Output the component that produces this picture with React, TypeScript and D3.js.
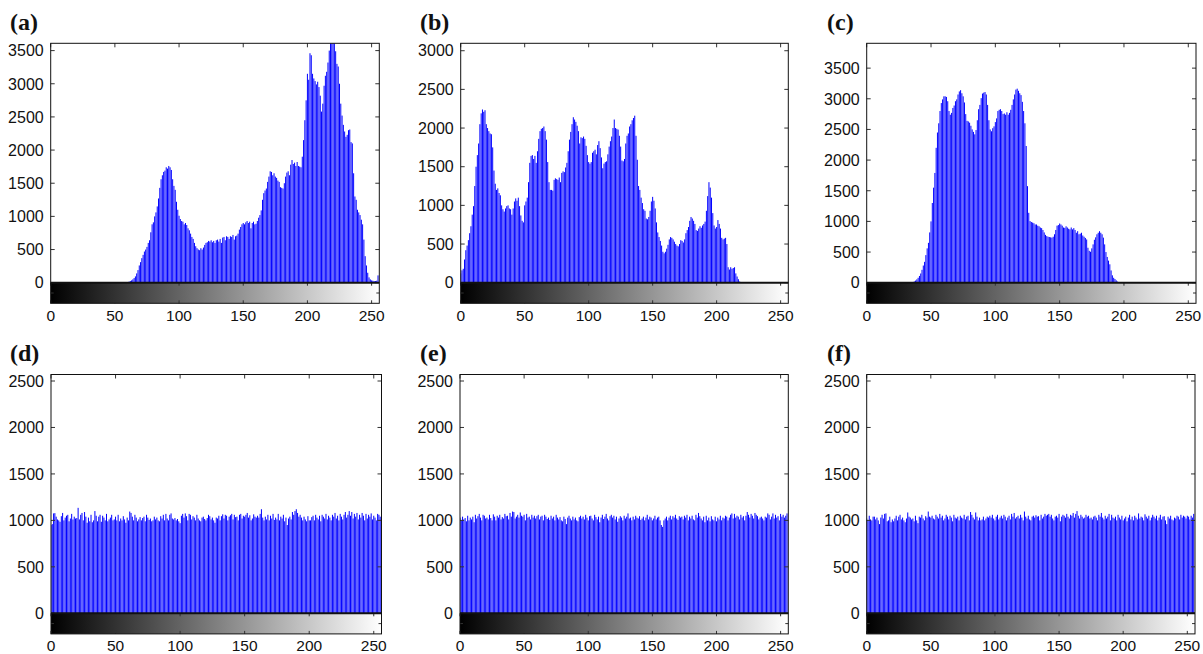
import React from 'react';
import * as d3 from 'd3';

// grey-level histograms, 256 bins each (counts)
const histA = [
  0, 0, 0, 0, 0, 0, 0, 0, 0, 0, 0, 0, 0, 0, 0, 0,
  0, 0, 0, 0, 0, 0, 0, 0, 0, 0, 0, 0, 0, 0, 0, 0,
  0, 0, 0, 0, 0, 0, 0, 0, 0, 0, 0, 0, 0, 0, 0, 0,
  0, 0, 0, 0, 0, 0, 0, 0, 0, 0, 0, 5, 10, 15, 25, 35,
  50, 70, 95, 140, 190, 260, 310, 370, 420, 470, 500, 540, 600, 640, 760, 880,
  910, 1000, 1060, 1150, 1270, 1430, 1560, 1620, 1670, 1690, 1740, 1720, 1760, 1740, 1700, 1560,
  1460, 1400, 1220, 1100, 1010, 960, 930, 920, 880, 900, 870, 820, 790, 740, 690, 660,
  600, 550, 520, 500, 490, 520, 500, 530, 570, 600, 610, 630, 620, 640, 610, 630,
  600, 640, 650, 620, 660, 600, 680, 690, 640, 700, 690, 660, 700, 690, 720, 650,
  700, 710, 740, 800, 840, 880, 900, 880, 910, 930, 900, 920, 820, 900, 920, 880,
  890, 930, 980, 1020, 1090, 1250, 1350, 1390, 1420, 1520, 1600, 1680, 1670, 1620, 1650, 1600,
  1580, 1540, 1520, 1440, 1430, 1420, 1500, 1600, 1660, 1680, 1620, 1780, 1850, 1790, 1810, 1760,
  1820, 1760, 1750, 1740, 1900, 2150, 2450, 2750, 3150, 3060, 3460, 3430, 3150, 3080, 3040, 2990,
  3030, 2950, 2820, 2580, 2700, 2970, 3120, 3180, 3320, 3500, 3610, 3610, 3610, 3610, 3490, 3300,
  3260, 3000, 2700, 2520, 2380, 2280, 2200, 2230, 2300, 2310, 2120, 2100, 1650, 1300, 1250, 1100,
  1060, 1020, 950, 880, 650, 400, 260, 150, 80, 50, 35, 30, 25, 25, 30, 110,
];

const histB = [
  120, 160, 180, 300, 420, 480, 550, 640, 730, 880, 990, 1250, 1500, 1650, 1800, 2050,
  2190, 2240, 2210, 2230, 2050, 2000, 1960, 1930, 1920, 1750, 1450, 1280, 1200, 1220, 1160, 1130,
  1000, 950, 920, 960, 990, 1000, 960, 950, 880, 960, 1050, 1090, 1060, 1100, 990, 870,
  800, 780, 1000, 1050, 1100, 1300, 1550, 1640, 1650, 1600, 1640, 1550, 1700, 1860, 1960, 1990,
  2000, 2020, 1960, 1850, 1560, 1300, 1200, 1200, 1190, 1330, 1350, 1340, 1330, 1360, 1300, 1420,
  1440, 1430, 1490, 1550, 1700, 1850, 1950, 2050, 2140, 2110, 2080, 2030, 1960, 1800, 1880, 1870,
  1890, 1860, 1770, 1650, 1560, 1540, 1560, 1680, 1700, 1720, 1660, 1780, 1830, 1740, 1620, 1480,
  1540, 1560, 1570, 1660, 1760, 1830, 1890, 2000, 2110, 2000, 1990, 1980, 1900, 1760, 1580, 1570,
  1600, 1800, 1900, 1930, 2020, 2050, 2100, 2130, 2160, 1900, 1590, 1250, 1200, 1100, 1030, 950,
  930, 830, 820, 850, 930, 1050, 1110, 1060, 960, 780, 650, 590, 540, 480, 400, 380,
  400, 440, 490, 560, 590, 580, 560, 530, 500, 480, 470, 500, 550, 540, 520, 560,
  640, 680, 720, 800, 850, 830, 800, 760, 680, 670, 700, 730, 710, 740, 760, 790,
  930, 1120, 1300, 1230, 1100, 900, 740, 700, 720, 810, 760, 700, 580, 560, 570, 580,
  500, 200, 170, 200, 180, 190, 200, 120, 80, 45, 15, 5, 0, 0, 0, 0,
  0, 0, 0, 0, 0, 0, 0, 0, 0, 0, 0, 0, 0, 0, 0, 0,
  0, 0, 0, 0, 0, 0, 0, 0, 0, 0, 0, 0, 0, 0, 0, 0,
];

const histC = [
  0, 0, 0, 0, 0, 0, 0, 0, 0, 0, 0, 0, 0, 0, 0, 0,
  0, 0, 0, 0, 0, 0, 0, 0, 0, 0, 0, 0, 0, 0, 0, 0,
  0, 0, 0, 0, 5, 20, 35, 55, 80, 110, 150, 210, 280, 340, 450, 560,
  650, 820, 1000, 1300, 1550, 1790, 2200, 2450, 2600, 2800, 2930, 2990, 3040, 3040, 3030, 2960,
  2800, 2740, 2770, 2850, 2890, 2960, 2990, 3070, 3120, 3140, 3090, 3040, 2940, 2750, 2640, 2630,
  2610, 2560, 2500, 2460, 2420, 2490, 2650, 2830, 2900, 3010, 3085, 3100, 3110, 3070, 2900, 2650,
  2500, 2470, 2520, 2550, 2620, 2680, 2800, 2820, 2830, 2800, 2750, 2760, 2740, 2780, 2740, 2770,
  2820, 2900, 2990, 3070, 3150, 3165, 3130, 3090, 3060, 2950, 2800, 2600, 2230, 1575, 1140, 1005,
  990, 980, 970, 950, 950, 930, 920, 900, 890, 860, 820, 780, 760, 750, 745, 740,
  735, 750, 790, 860, 930, 940, 965, 950, 930, 900, 895, 920, 900, 880, 870, 900,
  870, 890, 860, 815, 840, 790, 800, 815, 770, 750, 730, 705, 570, 520, 505, 560,
  625, 700, 740, 790, 815, 840, 815, 790, 735, 625, 500, 420, 360, 300, 200, 120,
  80, 60, 38, 18, 8, 3, 0, 0, 0, 0, 0, 0, 0, 0, 0, 0,
  0, 0, 0, 0, 0, 0, 0, 0, 0, 0, 0, 0, 0, 0, 0, 0,
  0, 0, 0, 0, 0, 0, 0, 0, 0, 0, 0, 0, 0, 0, 0, 0,
  0, 0, 0, 0, 0, 0, 0, 0, 0, 0, 0, 0, 0, 0, 0, 0,
];

const histD = [
  950, 960, 1075, 1078, 1040, 1010, 1000, 985, 1045, 1080, 1000, 1030, 1050, 1060, 990, 1020,
  1070, 1010, 1040, 1020, 1025, 1135, 1010, 1060, 1080, 1000, 1090, 1040, 975, 1030, 990, 1060,
  980, 1000, 1100, 1050, 990, 1040, 1060, 985, 1050, 1030, 1000, 1070, 990, 1010, 1030, 1060,
  1000, 1010, 1040, 1000, 1060, 990, 1020, 1000, 1045, 1010, 975, 1030, 1000, 1095, 1080, 1040,
  1000, 1060, 1030, 990, 1010, 1035, 1000, 1025, 1040, 990, 1060, 1030, 1005, 1020, 990, 1000,
  1040, 1010, 1030, 1000, 990, 1045, 1020, 1060, 1000, 1070, 1020, 1000, 1060, 1075, 1020, 1010,
  1025, 1000, 1015, 990, 970, 1050, 1070, 1030, 1075, 1045, 1000, 1070, 1060, 1010, 1045, 1030,
  1000, 1060, 1020, 1000, 990, 1030, 1040, 1015, 1000, 1025, 1060, 1045, 1010, 1030, 1000, 975,
  1030, 1020, 1050, 1000, 1045, 1065, 1020, 1060, 1050, 1000, 1040, 1055, 1070, 1010, 1060, 1035,
  1040, 1000, 1060, 1070, 1020, 1050, 1040, 1060, 1080, 1030, 1055, 1000, 1020, 1065, 1040, 1030,
  1050, 1030, 1070, 1120, 1030, 1000, 1040, 1010, 1060, 1000, 1050, 1020, 1070, 1005, 1030, 1010,
  1070, 1000, 1040, 1020, 1060, 990, 1030, 950, 1020, 1040, 1010, 1090, 1060, 1100, 1120, 1080,
  1040, 1060, 1030, 1000, 1040, 1010, 990, 1045, 1000, 1000, 1035, 1050, 1000, 1060, 1030, 1010,
  1050, 990, 1060, 1040, 1020, 1070, 1010, 1050, 1030, 1000, 1060, 1040, 1080, 1020, 1050, 1000,
  1070, 1040, 1010, 1060, 1090, 1030, 1060, 1100, 1050, 1090, 1020, 1070, 1040, 1080, 1010, 1060,
  1030, 1080, 1050, 1000, 1070, 1020, 1060, 1040, 1075, 1010, 1050, 1030, 1000, 1070, 1060, 1040,
];

const histE = [
  1030, 1000, 1040, 1010, 1025, 990, 1050, 1000, 1030, 1010, 1040, 980, 1060, 1020, 1045, 1070,
  1030, 1000, 1060, 1050, 1020, 1030, 1010, 1060, 1025, 1000, 1065, 1040, 1000, 1050, 1030, 1060,
  1010, 1035, 1020, 1070, 1045, 1050, 1010, 1080, 1040, 1095, 1090, 1020, 1040, 1060, 1030, 1085,
  1050, 1040, 1060, 1000, 1070, 1030, 1040, 1010, 1060, 1030, 1050, 1020, 1045, 1060, 1010, 1040,
  1050, 1000, 1060, 1040, 1015, 1030, 1005, 1050, 1020, 1040, 1000, 1060, 1030, 1010, 1035, 1000,
  990, 1040, 1015, 960, 1030, 1050, 1020, 1000, 1040, 1010, 1030, 1000, 990, 1035, 1050, 1020,
  1040, 1010, 1060, 1030, 1000, 1045, 1050, 1020, 1000, 1060, 1035, 1010, 1040, 980, 1030, 1060,
  1015, 1040, 1070, 1020, 1000, 1045, 1060, 1030, 1050, 1010, 1040, 985, 1020, 1045, 1030, 1000,
  1050, 1020, 1040, 1075, 1020, 1030, 1000, 1040, 1010, 1050, 1030, 1020, 1045, 1005, 1020, 1040,
  1000, 1030, 1060, 1010, 1040, 1030, 1000, 1020, 1050, 1010, 1030, 1040, 1000, 950, 930, 1000,
  1020, 1040, 1000, 1030, 1050, 1010, 1045, 1030, 1060, 1020, 1005, 1045, 1030, 1040, 1010, 1050,
  1030, 1060, 1000, 1040, 1020, 1050, 1010, 1000, 1060, 1030, 1080, 1045, 1020, 1000, 1040, 980,
  1050, 1000, 1030, 990, 1045, 1010, 1000, 1040, 990, 1030, 1010, 1050, 1000, 1030, 1020, 1050,
  1040, 1000, 1030, 1060, 1075, 1020, 1070, 1030, 1050, 1040, 1010, 1060, 1030, 1045, 1000, 1050,
  1090, 1060, 1030, 1070, 1050, 1020, 1080, 1060, 1045, 1010, 1030, 1040, 1020, 1000, 1040, 1030,
  1075, 1060, 1010, 1040, 1075, 1020, 1060, 1030, 1045, 1000, 1070, 1040, 1060, 1030, 1050, 1075,
];

const histF = [
  1020, 1000, 1050, 1010, 1000, 1040, 1040, 1010, 1030, 1000, 960, 1030, 1060, 1020, 1070, 1075,
  990, 1000, 1040, 980, 1010, 990, 1020, 1050, 1000, 1040, 1060, 1010, 1030, 1000, 980, 1020,
  1085, 1040, 1030, 1010, 1020, 990, 1050, 1000, 970, 1040, 1030, 1060, 1020, 1000, 1045, 1030,
  1095, 1040, 1030, 1050, 1020, 1010, 1060, 1040, 1020, 1070, 1030, 1050, 1000, 1020, 1060, 1040,
  1010, 1050, 1030, 990, 1060, 1030, 1020, 1040, 1000, 1050, 1030, 1020, 1060, 1010, 1040, 1050,
  1000, 1090, 1060, 1030, 1010, 1085, 1040, 1000, 1030, 1000, 1010, 1040, 1000, 1020, 1040, 1030,
  1050, 1030, 1060, 1020, 1000, 1040, 1060, 1010, 1030, 1050, 1020, 1060, 1040, 1000, 1030, 1050,
  1010, 1070, 1040, 1080, 1020, 1035, 1050, 1020, 1060, 1030, 1000, 1095, 1040, 1020, 1050, 1010,
  1000, 1040, 1050, 1030, 1055, 1040, 1045, 1000, 1060, 1020, 1040, 1070, 1050, 1060, 1070, 1040,
  1060, 1020, 1000, 1040, 1050, 1030, 1070, 990, 1040, 1060, 1050, 1030, 1070, 1040, 1020, 1060,
  1050, 1080, 1030, 1070, 1100, 1050, 1020, 1060, 1040, 1020, 1030, 1060, 1040, 1050, 1020, 1030,
  1010, 1040, 1050, 1030, 1000, 1060, 1040, 1080, 1030, 1010, 1050, 1020, 1040, 1070, 1000, 1060,
  1030, 1020, 1040, 1000, 1060, 1030, 1010, 1050, 1000, 1020, 1040, 990, 1030, 1060, 1010, 1040,
  1000, 1050, 1030, 1010, 1075, 1020, 1040, 1030, 1000, 1065, 1040, 1020, 1050, 1000, 1030, 1060,
  1040, 1020, 1050, 1000, 1030, 1060, 1010, 1040, 1045, 1000, 960, 1040, 1020, 1050, 1010, 1000,
  1030, 1020, 1050, 1040, 1010, 1060, 1030, 1050, 1040, 1020, 1050, 1040, 1010, 1050, 1030, 1070,
];

const xTicks = [0, 50, 100, 150, 200, 250];
const yTicksA = [0, 500, 1000, 1500, 2000, 2500, 3000, 3500];
const yTicksB = [0, 500, 1000, 1500, 2000, 2500, 3000];
const yTicksC = [0, 500, 1000, 1500, 2000, 2500, 3000, 3500];
const yTicksFlat = [0, 500, 1000, 1500, 2000, 2500];

const labels = ['(a)', '(b)', '(c)', '(d)', '(e)', '(f)'];

const panels = [
  { id: 'a', data: histA, yTicks: yTicksA, yMax: 3610, left: 50.7, right: 379.3, top: 43.3, zero: 282.7, tx: 10 },
  { id: 'b', data: histB, yTicks: yTicksB, yMax: 3096, left: 460.7, right: 788.3, top: 43.3, zero: 282.7, tx: 420 },
  { id: 'c', data: histC, yTicks: yTicksC, yMax: 3905, left: 866.7, right: 1196, top: 43.3, zero: 282.7, tx: 827 },
  { id: 'd', data: histD, yTicks: yTicksFlat, yMax: 2570, left: 51, right: 381.5, top: 374.5, zero: 613.3, tx: 10 },
  { id: 'e', data: histE, yTicks: yTicksFlat, yMax: 2570, left: 460, right: 788.3, top: 374.5, zero: 613.3, tx: 420 },
  { id: 'f', data: histF, yTicks: yTicksFlat, yMax: 2570, left: 866.7, right: 1195, top: 374.5, zero: 613.3, tx: 827 },
];

const CB_H = 20.6;
const FONT = 'Liberation Sans, Arial, Helvetica, sans-serif';

function Panel({ p, label }) {
  const x = d3.scaleLinear().domain([0, 256]).range([p.left, p.right]);
  const y = d3.scaleLinear().domain([0, p.yMax]).range([p.zero, p.top]);
  const cbBottom = p.zero + CB_H;
  const cbMid = p.zero + CB_H / 2;
  const w = p.right - p.left;

  return (
    <g>
      <defs>
        <linearGradient id={'grad-' + p.id} x1="0" x2="1" y1="0" y2="0">
          <stop offset="0" stopColor="#000" />
          <stop offset="1" stopColor="#fff" />
        </linearGradient>
        <clipPath id={'clip-' + p.id}>
          <rect x={p.left} y={p.top} width={w} height={p.zero - p.top} />
        </clipPath>
      </defs>

      <text x={p.tx} y={p.top - 13.5} fontFamily="Liberation Serif, Times New Roman, serif"
        fontWeight="bold" fontSize={24} fill="#111">{label}</text>

      {/* grey colour bar under the histogram */}
      <rect x={p.left} y={p.zero} width={w} height={CB_H} fill={`url(#grad-${p.id})`} />

      <g clipPath={`url(#clip-${p.id})`}>
        {p.data.map((v, i) => v > 0 ? (
          <line key={i} x1={x(i)} x2={x(i)} y1={p.zero} y2={y(v)} stroke="#0000ff" strokeWidth={1} />
        ) : null)}
      </g>

      {/* ticks */}
      {p.yTicks.map(t => (
        <g key={'y' + t} stroke="#333" strokeWidth={1}>
          <line x1={p.left} x2={p.left + 4} y1={y(t)} y2={y(t)} />
          <line x1={p.right} x2={p.right - 4} y1={y(t)} y2={y(t)} />
        </g>
      ))}
      {xTicks.map(t => (
        <g key={'x' + t} stroke="#333" strokeWidth={1}>
          <line x1={x(t)} x2={x(t)} y1={p.top} y2={p.top + 4} />
          <line x1={x(t)} x2={x(t)} y1={p.zero} y2={p.zero + 3} />
          <line x1={x(t)} x2={x(t)} y1={cbBottom} y2={cbBottom - 3} />
        </g>
      ))}
      <line x1={p.right} x2={p.right - 3} y1={cbMid} y2={cbMid} stroke="#333" />
      <line x1={p.left} x2={p.left + 3} y1={cbMid} y2={cbMid} stroke="#333" />

      {/* frame */}
      <rect x={p.left} y={p.top} width={w} height={cbBottom - p.top} fill="none" stroke="#111" strokeWidth={1} />
      <line x1={p.left} x2={p.right} y1={p.zero} y2={p.zero} stroke="#111" strokeWidth={2} />

      {/* tick labels */}
      {p.yTicks.map(t => (
        <text key={'yl' + t} x={p.left - 7} y={y(t)} dy="0.36em" textAnchor="end"
          fontFamily={FONT} fontSize={16} fill="#111">{t}</text>
      ))}
      {xTicks.map(t => (
        <text key={'xl' + t} x={x(t)} y={cbBottom + 17.5} textAnchor="middle"
          fontFamily={FONT} fontSize={15.5} fill="#111">{t}</text>
      ))}
    </g>
  );
}

export default function App() {
  return (
    <svg width={1203} height={654} style={{ position: 'absolute', left: 0, top: 0, background: '#fff' }}>
      {panels.map((p, i) => <Panel key={p.id} p={p} label={labels[i]} />)}
    </svg>
  );
}
